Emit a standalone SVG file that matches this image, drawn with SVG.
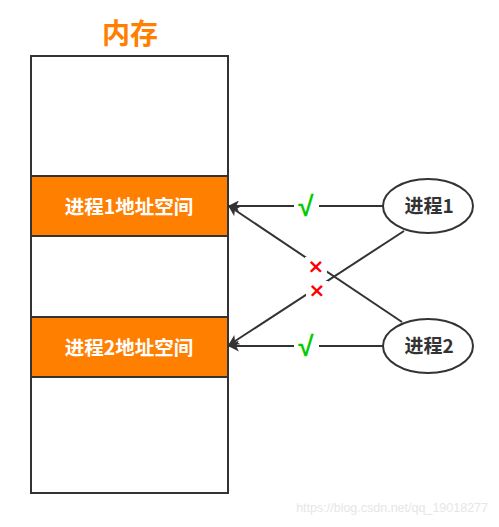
<svg xmlns="http://www.w3.org/2000/svg" width="499" height="527" viewBox="0 0 499 527">
<defs>
<marker id="ah" viewBox="0 0 10 10" refX="9" refY="5" markerWidth="11" markerHeight="11" markerUnits="userSpaceOnUse" orient="auto">
<path d="M0,0 L10,5 L0,10 L2.5,5 Z" fill="#333"/>
</marker>
</defs>
<style>
.box{fill:#fff;stroke:#333;stroke-width:2}
.band{fill:#FF8000;stroke:#333;stroke-width:2}
.bt{font-family:"Noto Sans CJK SC","Liberation Sans",sans-serif;font-weight:bold;font-size:19.5px;fill:#fff;text-anchor:middle}
.et{font-family:"Noto Sans CJK SC","Liberation Sans",sans-serif;font-weight:bold;font-size:19px;fill:#333;text-anchor:middle}
.ell{fill:#fff;stroke:#333;stroke-width:2}
.ln{stroke:#333;stroke-width:2;fill:none;marker-end:url(#ah)}
.ok{font-family:"Liberation Sans",sans-serif;font-weight:bold;font-size:28px;fill:#00CC00;text-anchor:middle}
.no{font-family:"DejaVu Sans",sans-serif;font-weight:bold;font-size:20px;fill:#FF0000;text-anchor:middle}
</style>
<text x="130" y="44" font-family="Noto Sans CJK SC, Liberation Sans, sans-serif" font-weight="bold" font-size="28" fill="#FF8000" text-anchor="middle">内存</text>
<g id="memory">
<rect class="box" x="31" y="56" width="197" height="437"/>
</g>
<g id="space1">
<rect class="band" x="31" y="176" width="197" height="60"/>
<text class="bt" x="129" y="214">进程1地址空间</text>
</g>
<g id="space2">
<rect class="band" x="31" y="317" width="197" height="60"/>
<text class="bt" x="129" y="355">进程2地址空间</text>
</g>
<g id="connectors">
<path class="ln" d="M383,206 L229,206"/>
<path class="ln" d="M383,346 L229,346"/>
<path class="ln" d="M402,322 L229,206"/>
<path class="ln" d="M404,231 L229,345"/>
<rect x="294" y="193" width="25" height="26" fill="#fff"/>
<text class="ok" x="306" y="216">√</text>
<rect x="294" y="333" width="25" height="26" fill="#fff"/>
<text class="ok" x="306" y="356">√</text>
<rect x="305" y="257" width="22" height="20" fill="#fff"/>
<text class="no" x="316" y="273">×</text>
<rect x="306" y="281" width="22" height="20" fill="#fff"/>
<text class="no" x="317" y="297">×</text>
</g>
<g id="proc1">
<ellipse class="ell" cx="428" cy="206" rx="45" ry="27"/>
<text class="et" x="429" y="213">进程1</text>
</g>
<g id="proc2">
<ellipse class="ell" cx="428" cy="346" rx="45" ry="27"/>
<text class="et" x="429" y="353">进程2</text>
</g>
<text x="488" y="512" font-family="Liberation Sans, sans-serif" font-size="12.5" fill="#e6e6e6" text-anchor="end">https://blog.csdn.net/qq_19018277</text>
</svg>
